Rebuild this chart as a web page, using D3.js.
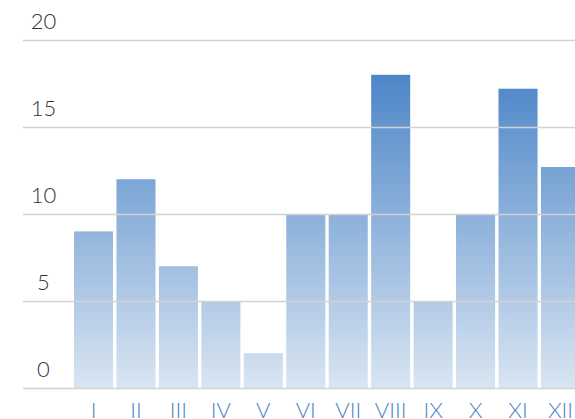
<!DOCTYPE html>
<html>
<head>
<meta charset="utf-8">
<script src="https://cdn.jsdelivr.net/npm/d3@7"></script>
<style>
  body { margin: 0; background: #fff; }
  svg { display: block; }
</style>
</head>
<body>
<script>
// chart data
const months = ['I', 'II', 'III', 'IV', 'V', 'VI', 'VII', 'VIII', 'IX', 'X', 'XI', 'XII']
const values = [9, 12, 7, 5, 2, 10, 10, 18, 5, 10, 17.2, 12.7]
const yTicks = [0, 5, 10, 15, 20]

const width = 575, height = 419

let svg = d3.select('body').append('svg')
    .attr('width', width)
    .attr('height', height)

// scales
let xScale = d3.scaleBand()
    .domain(months)
    .range([72.3, 581.7])
    .paddingInner(0.08)
    .paddingOuter(0.04)

let yScale = d3.scaleLinear()
    .domain([0, 20])
    .range([388, 40])

// vertical gradient shared by every bar
let grad = svg.append('defs').append('linearGradient')
    .attr('id', 'barGrad')
    .attr('gradientUnits', 'userSpaceOnUse')
    .attr('x1', 0).attr('x2', 0)
    .attr('y1', yScale(20)).attr('y2', yScale(0))
grad.append('stop').attr('offset', '0%').attr('stop-color', '#3d7bc3')
grad.append('stop').attr('offset', '100%').attr('stop-color', '#d9e5f2')

// bars
svg.selectAll('rect.bar')
    .data(values)
  .enter().append('rect')
    .attr('class', 'bar')
    .attr('x', (d, i) => xScale(months[i]))
    .attr('y', d => yScale(d))
    .attr('width', xScale.bandwidth())
    .attr('height', d => yScale(0) - yScale(d))
    .attr('fill', 'url(#barGrad)')

// gridlines drawn over the bars
let yAxis = d3.axisLeft(yScale)
    .tickValues(yTicks)
    .tickSize(-(width - 23))
    .tickFormat('')

svg.append('g')
    .attr('class', 'grid')
    .attr('transform', 'translate(23,0)')
    .call(yAxis)
    .call(g => g.select('.domain').remove())
    .call(g => g.selectAll('line')
        .attr('stroke', '#d2d2d2')
        .attr('stroke-width', 1.6))

// y labels sit above their gridline
svg.append('g').selectAll('text')
    .data(yTicks)
  .enter().append('text')
    .attr('x', 43.5)
    .attr('y', d => yScale(d) - 11.5)
    .attr('text-anchor', 'middle')
    .attr('font-family', 'Lato, sans-serif')
    .attr('font-weight', 300)
    .attr('font-size', 22)
    .attr('fill', '#333')
    .text(d => d)

// x labels
let xAxis = d3.axisBottom(xScale).tickSize(0)

svg.append('g')
    .attr('transform', 'translate(0,' + yScale(0) + ')')
    .call(xAxis)
    .call(g => g.select('.domain').remove())
    .call(g => g.selectAll('text')
        .attr('y', 0)
        .attr('dy', 30)
        .attr('font-family', 'Lato, sans-serif')
        .attr('font-weight', 300)
        .attr('font-size', 22)
        .attr('fill', '#4a84c8'))
</script>
</body>
</html>
